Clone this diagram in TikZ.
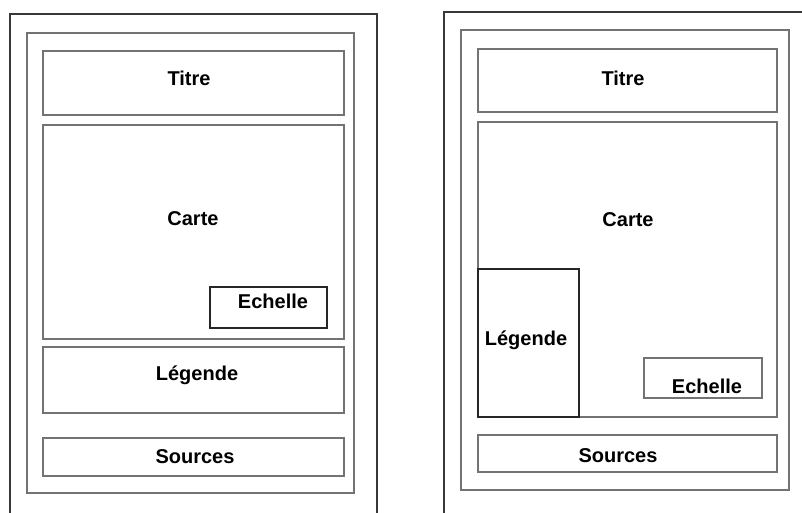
\documentclass[tikz,border=0pt]{standalone}
\usepackage{fontspec}
\setmainfont{Liberation Sans}
\usetikzlibrary{positioning}

\begin{document}
\begin{tikzpicture}[
  x=1pt,y=-1pt,
  frame/.style={draw=black!78, line width=1.4pt},
  zone/.style={draw=black!55, line width=1.4pt},
  inset/.style={draw=black!85, line width=1.3pt, fill=white},
  lbl/.style={font=\bfseries\fontsize{20}{24}\selectfont, anchor=base, inner sep=0pt}
]
\useasboundingbox (0,0) rectangle (802,513);
\clip (0,0) rectangle (802,513);
% first layout
\draw[frame] (10,530) -- (10,14) -- (377,14) -- (377,530);
\draw[zone] (27,33) rectangle (354,493);
\draw[zone] (43,51) rectangle (344,115);
\draw[zone] (43,125) rectangle (344,339);
\draw[inset] (210,287) rectangle (327,328);
\draw[zone] (43,347) rectangle (344,413);
\draw[zone] (43,438) rectangle (344,476);
\node[lbl] (titreL) at (189,86) {Titre};
\node[lbl] (carteL) at (193,225) {Carte};
\node[lbl] (echelleL) at (273,308) {Echelle};
\node[lbl] (legendeL) at (197,380) {Légende};
\node[lbl] (sourcesL) at (195,463) {Sources};
% second layout
\draw[frame] (830,12) -- (444,12) -- (444,530);
\draw[zone] (461,30) rectangle (789,490);
\draw[zone] (478,49) rectangle (777,112);
\draw[zone] (478,122) rectangle (777,417);
\draw[inset] (478,269) rectangle (579,417);
\draw[zone] (644,358) rectangle (762,398);
\draw[zone] (478,435) rectangle (777,472);
\node[lbl] (titreR) at (623,86) {Titre};
\node[lbl] (carteR) at (628,226) {Carte};
\node[lbl] (legendeR) at (526,345) {Légende};
\node[lbl] (echelleR) at (707,393) {Echelle};
\node[lbl] (sourcesR) at (618,462) {Sources};
\end{tikzpicture}
\end{document}
